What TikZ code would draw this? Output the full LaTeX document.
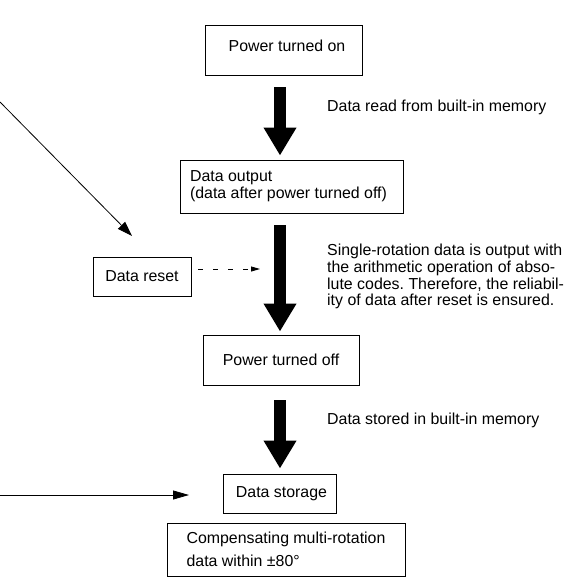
\documentclass[tikz,border=0pt]{standalone}
\usepackage{fontspec}
\setmainfont{Liberation Sans}
\frenchspacing
\usetikzlibrary{arrows.meta}
\begin{document}
\begin{tikzpicture}[x=1pt,y=-1pt,
  every node/.style={font=\fontsize{15.9}{17}\selectfont},
  box/.style={draw,line width=0.9pt,inner sep=0pt,align=left},
  bigarrow/.style={line width=12.5pt,-{Triangle[length=28pt,width=31pt]}},
  connector/.style={line width=0.8pt},
  note/.style={inner sep=0pt,align=left}]
\useasboundingbox (0,0) rectangle (575,577);
% boxes
\node[box,minimum width=157pt,minimum height=50pt,text depth=8pt] (on) at (283.5,50) {\hspace*{7pt}Power turned on};
\node[box,minimum width=223pt,minimum height=53pt] (out) at (291.5,186.5) {Data output\\(data after power turned off)\hspace*{6pt}};
\node[box,minimum width=98pt,minimum height=39pt] (reset) at (142,276.5) {Data reset};
\node[box,minimum width=156pt,minimum height=50pt] (off) at (281,360) {Power turned off};
\node[box,minimum width=113pt,minimum height=39pt] (store) at (279.5,493.5) {\hspace*{4pt}Data storage};
\node[box,minimum width=238pt,minimum height=53pt,font=\fontsize{15.9}{23}\selectfont] (comp) at (286,549.5) {Compensating multi-rotation\\data within ±80°};
% notes
\node[note,anchor=west] (n1) at (327,107) {Data read from built-in memory};
\node[note,anchor=north west,font=\fontsize{15.9}{16.7}\selectfont] (n2) at (327,244) {Single-rotation data is output with\\the arithmetic operation of abso-\\lute codes. Therefore, the reliabil-\\ity of data after reset is ensured.};
\node[note,anchor=west] (n3) at (327,420) {Data stored in built-in memory};
% column
\coordinate (col) at (280,0);
\draw[bigarrow] ([yshift=-12pt]on.south -| col) -- ([yshift=4pt]out.north -| col);
\draw[bigarrow] ([yshift=-12pt]out.south -| col) -- ([yshift=3pt]off.north -| col);
\draw[bigarrow] ([yshift=-15pt]off.south -| col) -- ([yshift=5pt]store.north -| col);
% free ends
\coordinate (d0) at (0,102);
\coordinate (d1) at (132,236);
\coordinate (b0) at (0,495);
\coordinate (b1) at (189,495);
\coordinate (r1) at (260,269);
\draw[connector,-{Triangle[length=15pt,width=10pt]}] (d0) -- (d1);
\draw[connector,-{Triangle[length=16pt,width=9pt]}] (b0) -- (b1);
\draw[connector,dash pattern=on 5pt off 10pt,-{Triangle[length=9pt,width=5pt]}] ([xshift=7pt,yshift=7.5pt]reset.east) -- (r1);
\end{tikzpicture}
\end{document}
